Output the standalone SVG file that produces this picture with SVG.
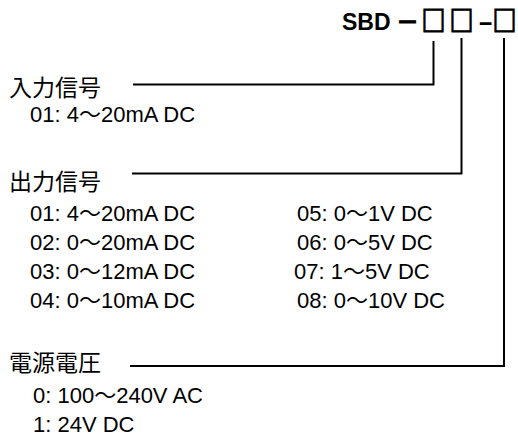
<svg xmlns="http://www.w3.org/2000/svg" width="518" height="441" viewBox="0 0 518 441">
<style>
.t{font-family:"Liberation Sans","Noto Sans CJK JP",sans-serif;font-size:22px;fill:#000}
.h{font-family:"Noto Sans CJK JP",sans-serif;font-size:23px;fill:#000}
.ti{font-family:"Liberation Sans","Noto Sans CJK JP",sans-serif;font-size:23px;font-weight:bold;fill:#000}
.sq{font-family:"Noto Sans CJK JP",sans-serif;font-size:20px;font-weight:bold;fill:#000;stroke:#000;stroke-width:0.9}
.c{fill:none;stroke:#000;stroke-width:2}
</style>
<rect width="518" height="441" fill="#fff"/>
<g id="title">
<text class="ti" x="342" y="30">SBD</text>
<text class="ti" x="396" y="30" style="stroke:#000;stroke-width:0.8">－</text>
<text class="sq" transform="translate(421.5 31) scale(1.2 1.35)">□</text>
<text class="sq" transform="translate(449.5 31) scale(1.2 1.35)">□</text>
<text class="ti" transform="translate(478 30) scale(2 1)">-</text>
<text class="sq" transform="translate(492.5 31) scale(1.2 1.35)">□</text>
</g>
<g id="connectors">
<path class="c" d="M133 84.5H433.5V41"/>
<path class="c" d="M132 173.5H461.5V38"/>
<path class="c" d="M130 366H504V38"/>
</g>
<g id="input">
<text class="h" x="9" y="96">入力信号</text>
<text class="t" x="30" y="122">01: 4～20mA DC</text>
</g>
<g id="output">
<text class="h" x="9" y="190">出力信号</text>
<text class="t" x="30" y="221">01: 4～20mA DC</text>
<text class="t" x="30" y="250">02: 0～20mA DC</text>
<text class="t" x="30" y="279">03: 0～12mA DC</text>
<text class="t" x="30" y="308">04: 0～10mA DC</text>
<text class="t" x="297" y="221">05: 0～1V DC</text>
<text class="t" x="297" y="250">06: 0～5V DC</text>
<text class="t" x="294" y="279">07: 1～5V DC</text>
<text class="t" x="297" y="308">08: 0～10V DC</text>
</g>
<g id="power">
<text class="h" x="9" y="371">電源電圧</text>
<text class="t" x="33" y="403">0: 100～240V AC</text>
<text class="t" x="33" y="432">1: 24V DC</text>
</g>
</svg>
